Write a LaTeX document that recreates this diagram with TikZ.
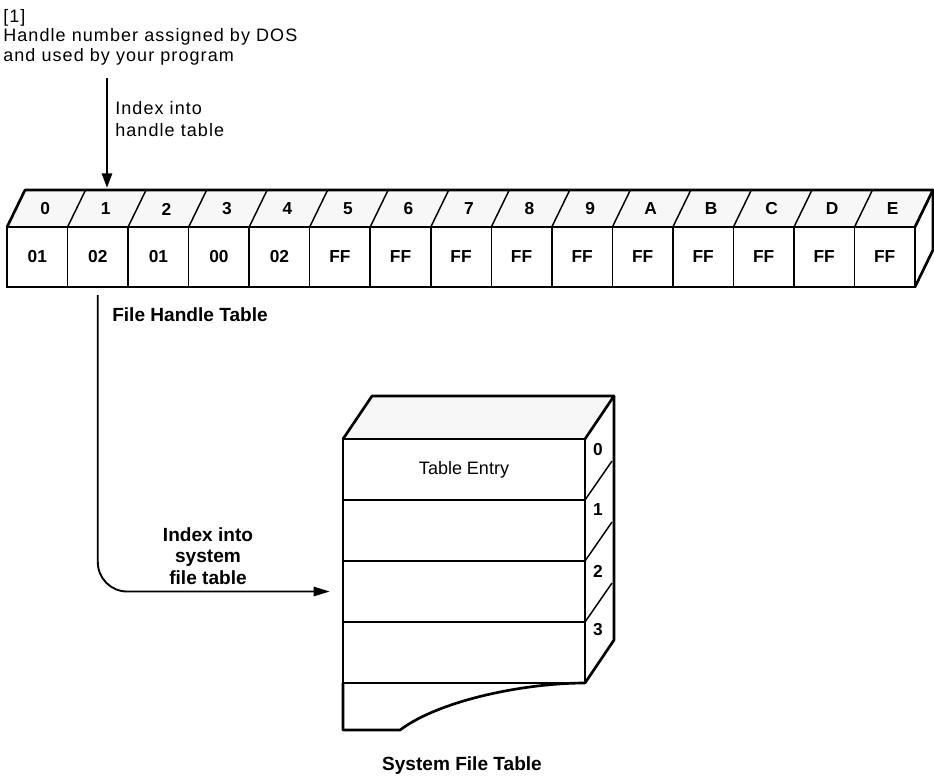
\documentclass[tikz,border=0pt]{standalone}
\usepackage{fontspec}
\setmainfont{Liberation Sans}
\newfontfamily\widefont[LetterSpace=6]{Liberation Sans}
\usetikzlibrary{arrows.meta}

\begin{document}
\begin{tikzpicture}[x=0.75pt,y=-0.75pt,
                    cell/.style={draw,line width=1.1pt,minimum width=45.4pt,minimum height=45pt,inner sep=0pt,outer sep=0pt,font=\bfseries\fontsize{13}{15}\selectfont},
                    slot/.style={inner sep=0pt,font=\bfseries\fontsize{13}{15}\selectfont},
                    row/.style={draw,line width=1.1pt,minimum width=181.5pt,minimum height=45.75pt,inner sep=0pt,outer sep=0pt,font=\fontsize{13.5}{15}\selectfont},
                    rim/.style={line width=2pt,line join=round},
                    seam/.style={line width=1.1pt},
                    shade/.style={fill=black!3},
                    note/.style={inner sep=0pt,align=left,font=\widefont\fontsize{13.5}{14.6}\selectfont},
                    caption/.style={inner sep=0pt,align=center,font=\bfseries\fontsize{14.3}{16.2}\selectfont},
                    arr/.style={-{Triangle[length=11pt,width=7.5pt]},line width=2pt},
                    link/.style={-{Triangle[length=12pt,width=7pt]},line width=1.4pt,rounded corners=22pt}]
  \useasboundingbox (0,0) rectangle (934,776);

  \node[note,anchor=base west] (src) at (3,61) {[1]\\Handle number assigned by DOS\\and used by your program};
  \node[note,anchor=base west,font=\widefont\fontsize{13.5}{16}\selectfont] (idx) at (115,136) {Index into\\handle table};

  \fill[shade] (7,227) -- (25,190) -- (933,190) -- (915,227) -- cycle;
  \node[cell] (c0) at (37.3,257) {01};
  \node[cell] (c1) at (97.8,257) {02};
  \node[cell] (c2) at (158.4,257) {01};
  \node[cell] (c3) at (218.9,257) {00};
  \node[cell] (c4) at (279.4,257) {02};
  \node[cell] (c5) at (339.9,257) {FF};
  \node[cell] (c6) at (400.5,257) {FF};
  \node[cell] (c7) at (461.0,257) {FF};
  \node[cell] (c8) at (521.5,257) {FF};
  \node[cell] (c9) at (582.1,257) {FF};
  \node[cell] (c10) at (642.6,257) {FF};
  \node[cell] (c11) at (703.1,257) {FF};
  \node[cell] (c12) at (763.7,257) {FF};
  \node[cell] (c13) at (824.2,257) {FF};
  \node[cell] (c14) at (884.7,257) {FF};
  \foreach \i in {0,...,13}
    \draw[seam] (c\i.north east) -- ++(18,-37);
  \draw[rim] (c0.south west) rectangle (c14.north east);
  \draw[rim] (c0.north west) -- ++(18,-37) -- ([shift={(18,-37)}]c14.north east) -- (c14.north east);
  \draw[rim] ([shift={(18,-37)}]c14.north east) -- ([shift={(18,-37)}]c14.south east) -- (c14.south east);

  \node[slot] (t0) at (45.3,209) {0};
  \node[slot] (t1) at (105.8,209) {1};
  \node[slot] (t2) at (166.4,209) {2};
  \node[slot] (t3) at (226.9,209) {3};
  \node[slot] (t4) at (287.4,209) {4};
  \node[slot] (t5) at (347.9,209) {5};
  \node[slot] (t6) at (408.5,209) {6};
  \node[slot] (t7) at (469.0,209) {7};
  \node[slot] (t8) at (529.5,209) {8};
  \node[slot] (t9) at (590.1,209) {9};
  \node[slot] (t10) at (650.6,209) {A};
  \node[slot] (t11) at (711.1,209) {B};
  \node[slot] (t12) at (771.7,209) {C};
  \node[slot] (t13) at (832.2,209) {D};
  \node[slot] (t14) at (892.7,209) {E};

  \node[caption,anchor=base west] (fht) at (112,321) {File Handle Table};

  \fill[shade] (343,439) -- (372,396) -- (614,396) -- (585,439) -- cycle;
  \node[row] (r0) at (464,469.5) {Table Entry};
  \node[row] (r1) at (464,530.5) {};
  \node[row] (r2) at (464,591.5) {};
  \node[row] (r3) at (464,652.5) {};
  \foreach \i in {0,1,2}
    \draw[seam] (r\i.south east) -- ++(27,-39);
  \draw[rim] (r0.north west) rectangle (r3.south east);
  \draw[rim] (r0.north west) -- ++(29,-43) -- ([shift={(29,-43)}]r0.north east) -- (r0.north east);
  \draw[rim] ([shift={(29,-43)}]r0.north east) -- ([shift={(29,-43)}]r3.south east) -- (r3.south east);
  \draw[rim] (r3.south west) -- ++(0,47) -- ++(57,0) .. controls +(40,-30) and +(-60,0) .. (r3.south east);

  \node[slot] (s0) at ([shift={(13,11)}]r0.north east) {0};
  \node[slot] (s1) at ([shift={(13,10)}]r1.north east) {1};
  \node[slot] (s2) at ([shift={(13,10)}]r2.north east) {2};
  \node[slot] (s3) at ([shift={(13,8)}]r3.north east) {3};

  \node[caption] (isf) at (208,556) {Index into\\system\\file table};
  \node[caption,anchor=base] (sft) at (462,770) {System File Table};

  \coordinate (drop) at (107,78);
  \coordinate (hit) at (107,188);
  \draw[arr] (drop) -- (hit);
  \draw[link,shorten <=6pt,shorten >=10pt] (c1.south) |- (r2.west);
\end{tikzpicture}
\end{document}
